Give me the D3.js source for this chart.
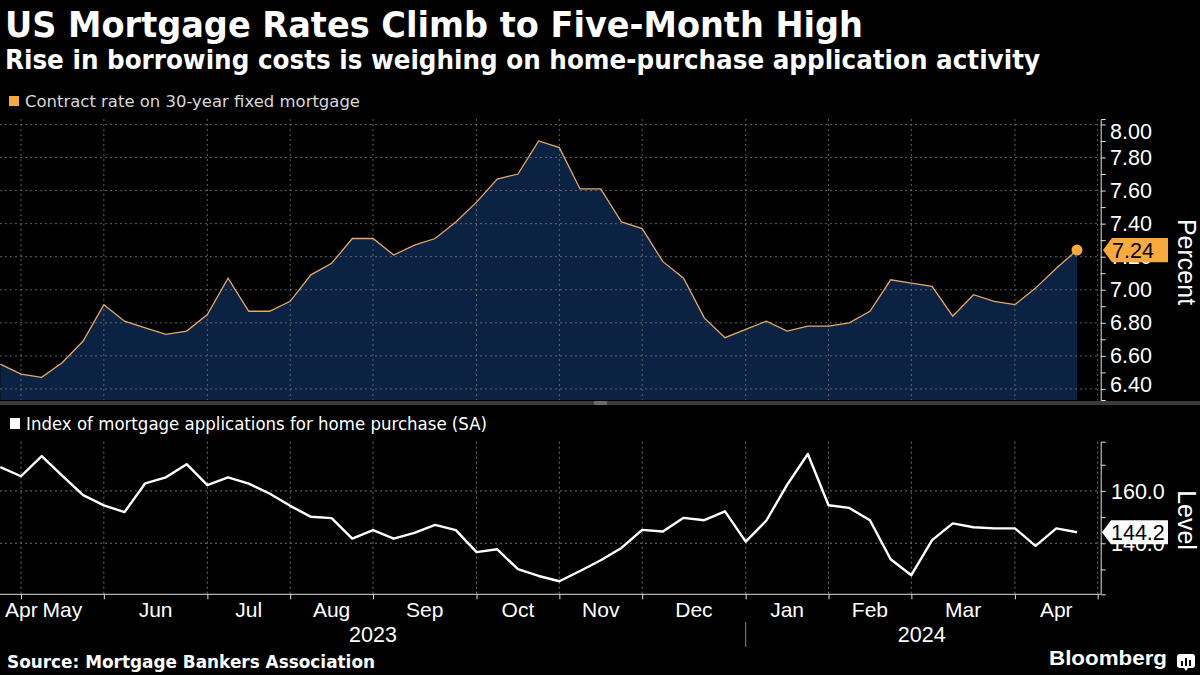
<!DOCTYPE html>
<html><head><meta charset="utf-8">
<script src="https://cdn.jsdelivr.net/npm/d3@7"></script>
<style>body{margin:0;background:#000;} svg{display:block}</style>
</head><body><svg id="c" width="1200" height="675"></svg>
<script>
// ---- data ----
const dates = ["2023-04-28","2023-05-05","2023-05-12","2023-05-19","2023-05-26","2023-06-02","2023-06-09","2023-06-16","2023-06-23","2023-06-30",
"2023-07-07","2023-07-14","2023-07-21","2023-07-28","2023-08-04","2023-08-11","2023-08-18","2023-08-25","2023-09-01","2023-09-08",
"2023-09-15","2023-09-22","2023-09-29","2023-10-06","2023-10-13","2023-10-20","2023-10-27","2023-11-03","2023-11-10","2023-11-17",
"2023-11-24","2023-12-01","2023-12-08","2023-12-15","2023-12-22","2023-12-29","2024-01-05","2024-01-12","2024-01-19","2024-01-26",
"2024-02-02","2024-02-09","2024-02-16","2024-02-23","2024-03-01","2024-03-08","2024-03-15","2024-03-22","2024-03-29","2024-04-05",
"2024-04-12","2024-04-19","2024-04-26"];
const rateValues = [6.55,6.49,6.47,6.56,6.69,6.91,6.81,6.77,6.73,6.75,
6.85,7.07,6.87,6.87,6.93,7.09,7.16,7.31,7.31,7.21,
7.27,7.31,7.41,7.53,7.67,7.70,7.90,7.86,7.61,7.61,
7.41,7.37,7.17,7.07,6.83,6.71,6.76,6.81,6.75,6.78,
6.78,6.80,6.87,7.06,7.04,7.02,6.84,6.97,6.93,6.91,
7.01,7.13,7.24];
const purchaseValues = [169.1,165.6,173.3,165.7,158.4,154.5,151.9,162.9,165.2,170.2,
162.2,165.2,162.8,159.0,154.3,150.1,149.6,141.8,145.0,141.8,
144.0,147.0,145.0,136.6,137.7,130.1,127.5,125.5,129.4,133.5,
138.2,145.1,144.5,149.7,148.8,152.2,140.6,148.7,162.3,174.1,
154.5,153.5,148.8,133.9,127.8,141.2,147.6,146.1,145.7,145.7,
139.0,145.7,144.2];
const rateTicks = [6.4,6.6,6.8,7.0,7.2,7.4,7.6,7.8,8.0];
const purchaseTicks = [140,160];
const purchaseMinorTicks = [130,140,150,160,170];
const monthNames = ["Jan","Feb","Mar","Apr","May","Jun","Jul","Aug","Sep","Oct","Nov","Dec"];
const titleText = "US Mortgage Rates Climb to Five-Month High";
const subtitleText = "Rise in borrowing costs is weighing on home-purchase application activity";
const legend1 = "Contract rate on 30-year fixed mortgage";
const legend2 = "Index of mortgage applications for home purchase (SA)";
const sourceText = "Source: Mortgage Bankers Association";

// ---- setup ----
const svg = d3.select("#c");
svg.append("rect").attr("width",1200).attr("height",675).attr("fill","#000");
const AX = "Liberation Sans, Arial, sans-serif";
const HUM = "DejaVu Sans, Verdana, sans-serif";
const gridColor = "#6e6e6e";

const parsed = dates.map(d => d3.timeParse("%Y-%m-%d")(d));
const x = d3.scaleLinear().domain([0, dates.length]).range([0.3, 1097.7]);
const top1 = 119, bot1 = 400, top2 = 441.7, bot2 = 594.3, axisX = 1100.7;
const yRate = d3.scaleLinear().domain([6.333, 8.033]).range([bot1, top1]);
const yIdx = d3.scaleLinear().domain([120.5, 178.8]).range([bot2, top2]);

// month boundaries (first weekly observation in each new month) + end
const bounds = [];
parsed.forEach((d,i)=>{ if(i>0 && d.getMonth()!==parsed[i-1].getMonth()) bounds.push(i); });
bounds.push(dates.length);

// ---- titles ----
svg.append("text").attr("x",5).attr("y",37).attr("fill","#fff").attr("font-family",HUM)
  .attr("font-weight","bold").attr("font-size",35).attr("textLength",858).attr("lengthAdjust","spacingAndGlyphs").text(titleText);
svg.append("text").attr("x",5).attr("y",69).attr("fill","#fff").attr("font-family",HUM)
  .attr("font-weight","bold").attr("font-size",26).attr("textLength",1035).attr("lengthAdjust","spacingAndGlyphs").text(subtitleText);

// legends
svg.append("rect").attr("x",9).attr("y",96).attr("width",10).attr("height",10).attr("fill","#f8a93f");
svg.append("text").attr("x",25).attr("y",107).attr("fill","#d8d8d8").attr("font-family",HUM)
  .attr("font-size",16.5).attr("textLength",335).attr("lengthAdjust","spacingAndGlyphs").text(legend1);
svg.append("rect").attr("x",10).attr("y",418).attr("width",10).attr("height",11).attr("fill","#fff");
svg.append("text").attr("x",26).attr("y",430).attr("fill","#fff").attr("font-family",HUM)
  .attr("font-size",17).attr("textLength",461).attr("lengthAdjust","spacingAndGlyphs").text(legend2);

// ---- top panel grid ----
const g1 = svg.append("g");
g1.selectAll("line.hg").data(rateTicks).join("line")
  .attr("x1",0).attr("x2",x(dates.length)).attr("y1",d=>yRate(d)).attr("y2",d=>yRate(d))
  .attr("stroke",gridColor).attr("stroke-dasharray","2,3").attr("stroke-width",1);
g1.selectAll("line.vg").data(bounds).join("line")
  .attr("x1",d=>x(d)).attr("x2",d=>x(d)).attr("y1",top1).attr("y2",bot1)
  .attr("stroke",gridColor).attr("stroke-dasharray","2,3").attr("stroke-width",1);

// area + line
const area = d3.area().x((d,i)=>x(i)).y0(bot1).y1(d=>yRate(d));
svg.append("path").datum(rateValues).attr("d",area).attr("fill","#0b2242");
// redraw grid over area faintly
g1.raise();
g1.selectAll("line").attr("stroke-opacity",0.85);
const line1 = d3.line().x((d,i)=>x(i)).y(d=>yRate(d));
svg.append("path").datum(rateValues).attr("d",line1).attr("fill","none").attr("stroke","#e9a95f").attr("stroke-width",1.3);
const lastI = rateValues.length-1;
svg.append("circle").attr("cx",x(lastI)).attr("cy",yRate(rateValues[lastI])).attr("r",5.5).attr("fill","#f8a93f");

// top axis
const ax1 = svg.append("g").attr("transform",`translate(${axisX},0)`)
  .call(d3.axisRight(yRate).tickValues(d3.range(64,81).map(v=>v/10)).tickSize(5).tickSizeOuter(5).tickFormat(""));
ax1.selectAll("path,line").attr("stroke","#e0e0e0");
svg.selectAll("text.rl").data(rateTicks).join("text").attr("class","rl")
  .attr("x",1110).attr("y",d=>Math.max(top1+12.7, Math.min(bot1-15.3, yRate(d)))+7.6)
  .attr("fill","#fff").attr("font-family",AX).attr("font-size",21.5).text(d=>d.toFixed(2));
svg.append("text").attr("transform",`translate(1178,${262}) rotate(90)`).attr("text-anchor","middle")
  .attr("fill","#fff").attr("font-family",AX).attr("font-size",25).text("Percent");

// value label top
const vy1 = yRate(rateValues[lastI]);
svg.append("path").attr("d",`M1103,${vy1} L1112,${vy1-12.2} L1168,${vy1-12.2} L1168,${vy1+12.2} L1112,${vy1+12.2} Z`).attr("fill","#f8a93f");
svg.append("text").attr("x",1112).attr("y",vy1+7.6).attr("fill","#000").attr("font-family",AX).attr("font-size",21.5).text(rateValues[lastI].toFixed(2));

// ---- separator ----
svg.append("rect").attr("x",0).attr("y",401).attr("width",1200).attr("height",4).attr("fill","#3b3b3b");
svg.append("line").attr("x1",594).attr("x2",607).attr("y1",402).attr("y2",402).attr("stroke","#9a9a9a");
svg.append("line").attr("x1",594).attr("x2",607).attr("y1",404).attr("y2",404).attr("stroke","#9a9a9a");

// ---- bottom panel ----
const g2 = svg.append("g");
g2.selectAll("line.hg").data(purchaseTicks).join("line")
  .attr("x1",0).attr("x2",x(dates.length)).attr("y1",d=>yIdx(d)).attr("y2",d=>yIdx(d))
  .attr("stroke",gridColor).attr("stroke-dasharray","2,3");
g2.selectAll("line.vg").data(bounds).join("line")
  .attr("x1",d=>x(d)).attr("x2",d=>x(d)).attr("y1",top2).attr("y2",bot2)
  .attr("stroke",gridColor).attr("stroke-dasharray","2,3");
const line2 = d3.line().x((d,i)=>x(i)).y(d=>yIdx(d));
svg.append("path").datum(purchaseValues).attr("d",line2).attr("fill","none").attr("stroke","#fff").attr("stroke-width",2.4).attr("stroke-linejoin","round");

const ax2 = svg.append("g").attr("transform",`translate(${axisX},0)`)
  .call(d3.axisRight(yIdx).tickValues(purchaseMinorTicks).tickSize(5).tickSizeOuter(5).tickFormat(""));
ax2.selectAll("path,line").attr("stroke","#e0e0e0");
svg.selectAll("text.pl").data(purchaseTicks).join("text").attr("class","pl")
  .attr("x",1111).attr("y",d=>yIdx(d)+7.6).attr("fill","#fff").attr("font-family",AX).attr("font-size",21.5).text(d=>d.toFixed(1));
svg.append("text").attr("transform",`translate(1178,520) rotate(90)`).attr("text-anchor","middle")
  .attr("fill","#fff").attr("font-family",AX).attr("font-size",25).text("Level");
const vy2 = yIdx(purchaseValues[lastI]);
svg.append("path").attr("d",`M1102,${vy2} L1111,${vy2-12} L1168,${vy2-12} L1168,${vy2+12} L1111,${vy2+12} Z`).attr("fill","#fff");
svg.append("text").attr("x",1111).attr("y",vy2+7.6).attr("fill","#000").attr("font-family",AX).attr("font-size",21.5).text(purchaseValues[lastI].toFixed(1));

// x axis
const axB = svg.append("g").attr("transform",`translate(0,${bot2})`)
  .call(d3.axisBottom(x).tickValues(bounds).tickSize(5).tickSizeOuter(0).tickFormat(""));
axB.select("path.domain").attr("d",`M0,0H${axisX}`);
axB.selectAll("path,line").attr("stroke","#e0e0e0");

// month labels
const segs = [];
let start = 0;
bounds.forEach(b=>{ segs.push({s:start,e:b,m:parsed[start].getMonth()}); start=b; });
segs.forEach((sg,k)=>{
  const t = svg.append("text").attr("y",617).attr("fill","#fff").attr("font-family",AX).attr("font-size",21).text(monthNames[sg.m]);
  if(k===0){ t.attr("x",5).attr("text-anchor","start"); }
  else { t.attr("x",(x(sg.s)+x(sg.e))/2).attr("text-anchor","middle"); }
});
// years
const janI = parsed.findIndex(d=>d.getFullYear()===2024);
const yearSegs = [{y:"2023",a:x(0),b:x(janI)},{y:"2024",a:x(janI),b:x(dates.length)}];
svg.selectAll("text.yr").data(yearSegs).join("text").attr("class","yr")
  .attr("x",d=>(d.a+d.b)/2).attr("y",642).attr("text-anchor","middle").attr("fill","#fff")
  .attr("font-family",AX).attr("font-size",21.5).text(d=>d.y);
svg.append("line").attr("x1",x(janI)).attr("x2",x(janI)).attr("y1",622).attr("y2",647).attr("stroke","#8a8a8a");

// footer
svg.append("text").attr("x",7).attr("y",668).attr("fill","#fff").attr("font-family",HUM).attr("font-weight","bold")
  .attr("font-size",17).attr("textLength",368).attr("lengthAdjust","spacingAndGlyphs").text(sourceText);
svg.append("text").attr("x",1049).attr("y",665).attr("fill","#fff").attr("font-family",AX).attr("font-weight","bold")
  .attr("font-size",20).attr("textLength",118).attr("lengthAdjust","spacingAndGlyphs").text("Bloomberg");
const ic = svg.append("g").attr("transform","translate(1177,654)");
ic.append("rect").attr("width",18).attr("height",14).attr("rx",3).attr("fill","#fff");
ic.append("path").attr("d","M7,14 L9,17 L11,14 Z").attr("fill","#fff");
[[4,7,2,5],[8,4,2,8],[12,6,2,6]].forEach(b=>ic.append("rect").attr("x",b[0]).attr("y",b[1]).attr("width",b[2]).attr("height",b[3]).attr("fill","#000"));
</script></body></html>
